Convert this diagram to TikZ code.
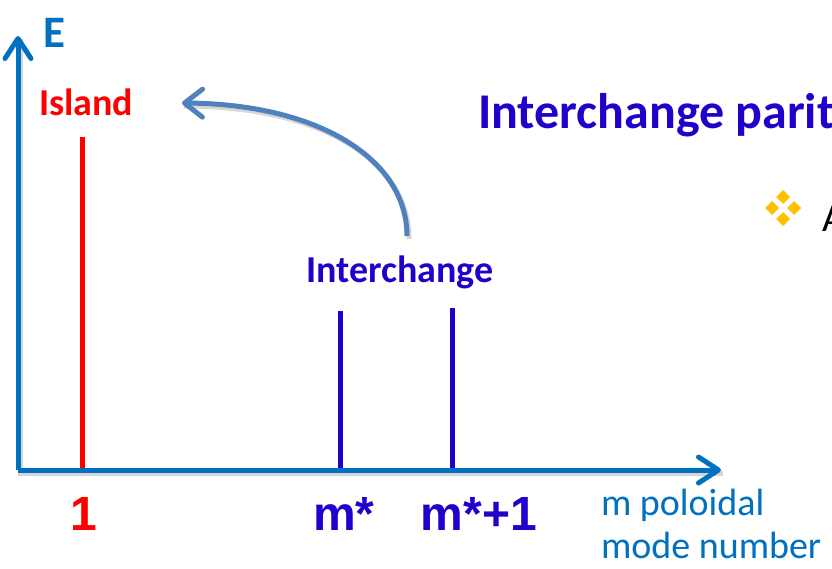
\documentclass[tikz,border=0pt]{standalone}
\usepackage{fontspec}
\setmainfont{Carlito}
\newfontfamily\arialfont{Liberation Sans}
\usetikzlibrary{arrows.meta}
\definecolor{axisblue}{RGB}{0,112,192}
\definecolor{deepblue}{RGB}{34,0,204}
\definecolor{arcblue}{RGB}{79,129,189}
\definecolor{goldbullet}{RGB}{255,192,0}
\definecolor{islandred}{RGB}{255,0,0}
\tikzset{
  axisline/.style={draw=axisblue, line width=5pt, -{Straight Barb[length=20pt,width=26pt,round]}},
  shadowline/.style={draw=black, opacity=0.16, line width=5pt},
  redbar/.style={draw=islandred, line width=5pt},
  bluebar/.style={draw=deepblue, line width=5pt},
  arcarrow/.style={draw=arcblue, line width=5pt, -{Straight Barb[length=18pt,width=28pt,round]}},
  lbl/.style={inner sep=0pt, outer sep=0pt},
  bigsans/.style={lbl, font=\fontsize{38}{43}\selectfont\bfseries},
  ticklbl/.style={lbl, font=\arialfont\fontsize{48}{50}\selectfont\bfseries},
  bullet/.style={fill=goldbullet},
}
\begin{document}
\begin{tikzpicture}[x=1pt,y=-1pt]
\useasboundingbox (0,0) rectangle (832,568);
\clip (0,0) rectangle (832,568);
\fill[white] (0,0) rectangle (832,568);

% coordinates
\coordinate (O) at (18,470);
\coordinate (Ytop) at (18,36);
\coordinate (Xend) at (721,470);
\coordinate (r0) at (82,470);  \coordinate (r1) at (82,137);
\coordinate (a0) at (340,470); \coordinate (a1) at (340,311);
\coordinate (b0) at (452,470); \coordinate (b1) at (452,308);
\coordinate (arcS) at (407,236);
\coordinate (arcE) at (182,103);

% shadows
\draw[shadowline] ([shift={(2,3)}]Ytop) -- ([shift={(2,3)}]O) -- ([shift={(2,3)}]Xend);
\draw[shadowline] ([shift={(2,3)}]arcS) .. controls (409,160) and (320,106) .. ([shift={(2,3)}]arcE);

% bars
\draw[redbar] (r0) -- (r1);
\draw[bluebar] (a0) -- (a1);
\draw[bluebar] (b0) -- (b1);

% axes
\draw[axisline] (O) -- (Ytop);
\draw[axisline] (O) -- (Xend);

% curved arrow
\draw[arcarrow] (arcS) .. controls (407,160) and (320,104) .. (arcE);

% labels
\node[lbl, anchor=base west, text=axisblue, font=\fontsize{45}{50}\selectfont\bfseries] (E) at (43,47) {E};
\node[bigsans, anchor=base west, text=islandred] (island) at (39,115) {Island};
\node[bigsans, anchor=base, text=deepblue] (inter) at (400,282) {Interchange};
\node[lbl, anchor=base west, text=deepblue, font=\fontsize{50}{55}\selectfont\bfseries] (title) at (478,128) {Interchange parit};
\node[ticklbl, anchor=base, text=islandred] (t1) at (84,530) {1};
\node[ticklbl, anchor=base, text=deepblue] (tm) at (344,530) {m*};
\node[ticklbl, anchor=base, text=deepblue] (tm1) at (479,530) {m*+1};
\node[lbl, anchor=base west, text=axisblue, font=\fontsize{38}{43}\selectfont] (xl1) at (601,515) {m poloidal};
\node[lbl, anchor=base west, text=axisblue, font=\fontsize{38}{43}\selectfont] (xl2) at (601,558) {mode number};
\node[lbl, anchor=base west, text=black, font=\fontsize{40}{45}\selectfont] (A) at (822,231) {A};

% bullet
\foreach \cx/\cy in {783/197, 772/208, 794/208, 783/219}{
  \fill[bullet] (\cx,\cy-7) -- (\cx+7,\cy) -- (\cx,\cy+7) -- (\cx-7,\cy) -- cycle;
}
\end{tikzpicture}
\end{document}
